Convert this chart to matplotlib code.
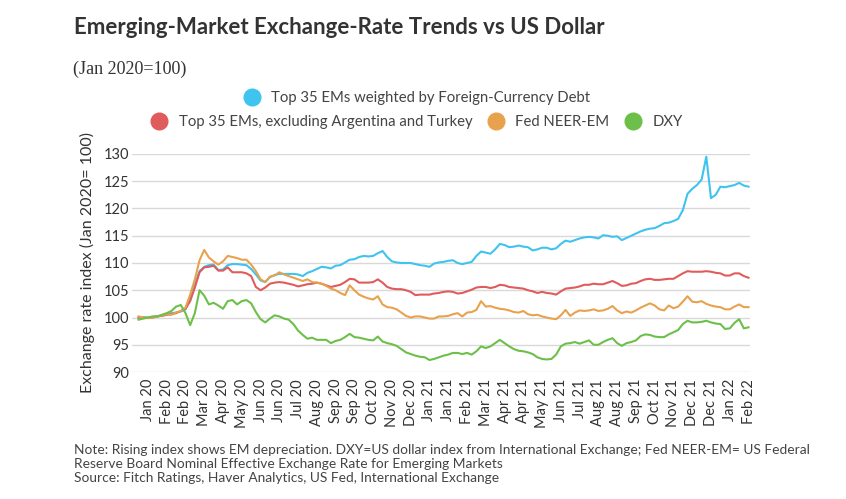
import numpy as np
import matplotlib
matplotlib.use("Agg")
import matplotlib.pyplot as plt
from matplotlib.lines import Line2D

plt.rcParams['font.family'] = ['Lato', 'DejaVu Sans']

# tick labels (one label every 4 observations)
tick_labels = ['Jan 20', 'Feb 20', 'Feb 20', 'Mar 20', 'Apr 20', 'May 20', 'Jun 20', 'Jun 20',
               'Jul 20', 'Aug 20', 'Sep 20', 'Sep 20', 'Oct 20', 'Nov 20', 'Dec 20', 'Jan 21',
               'Jan 21', 'Feb 21', 'Mar 21', 'Apr 21', 'Apr 21', 'May 21', 'Jun 21', 'Jul 21',
               'Aug 21', 'Aug 21', 'Sep 21', 'Oct 21', 'Nov 21', 'Dec 21', 'Dec 21', 'Jan 22',
               'Feb 22']

# index values, Jan 2020 = 100
fc_debt = [100.0, 100.0, 100.0, 100.1, 100.2, 100.4, 100.6, 100.8, 100.9, 101.1, 101.5, 103.5,
           106.0, 108.5, 109.3, 109.6, 109.7, 108.7, 108.8, 109.6, 109.8, 109.8, 109.7, 109.6,
           108.9, 107.9, 106.8, 106.5, 107.4, 107.8, 108.0, 108.0, 108.0, 108.0, 107.9,
           107.6, 108.2, 108.5, 108.9, 109.3, 109.2, 109.0, 109.5, 109.6, 110.1, 110.6, 110.7,
           111.1, 111.3, 111.2, 111.3, 111.8, 112.2, 111.1, 110.3, 110.1, 110.0, 110.0, 110.0,
           109.8, 109.6, 109.5, 109.3, 109.9, 110.1, 110.2, 110.4, 110.5, 110.0,
           109.8, 110.0, 110.2, 111.3, 112.1, 111.9, 111.7, 112.5, 113.5, 113.3, 112.9, 113.0,
           113.2, 113.0, 112.9, 112.3, 112.5, 112.8, 112.8, 112.5, 112.7, 113.5, 114.1, 113.9,
           114.2, 114.5, 114.7, 114.8, 114.7, 114.5, 115.1, 115.0, 114.8, 114.9,
           114.2, 114.6, 115.0, 115.4, 115.8, 116.1, 116.3, 116.4, 116.8, 117.3, 117.4, 117.7,
           118.1, 119.7, 122.7, 123.6, 124.3, 125.3, 129.5, 121.9, 122.5, 124.0, 123.9, 124.1,
           124.3, 124.7, 124.2, 124.0]

ex_arg_tur = [100.0, 100.0, 99.9, 100.0, 100.2, 100.3, 100.5, 100.6, 100.8, 101.2, 101.6, 103.0,
              105.5, 108.3, 109.2, 109.3, 109.5, 108.6, 108.6, 109.2, 108.3, 108.3, 108.3, 108.1,
              107.6, 105.6, 105.0, 105.5, 106.2, 106.4, 106.5, 106.4, 106.2, 106.0, 105.7,
              105.9, 106.1, 106.2, 106.4, 106.2, 105.9, 105.6, 105.8, 106.0, 106.5, 107.1, 107.0,
              106.4, 106.4, 106.4, 106.5, 107.0, 106.4, 105.6, 105.3, 105.2, 105.2, 105.0, 104.7,
              104.1, 104.2, 104.2, 104.2, 104.4, 104.5, 104.7, 104.8, 104.7, 104.4,
              104.5, 104.8, 105.1, 105.5, 105.6, 105.6, 105.4, 105.6, 106.0, 105.9, 105.6, 105.5,
              105.4, 105.3, 105.0, 104.8, 104.5, 104.7, 104.5, 104.4, 104.2, 104.8, 105.3, 105.4,
              105.5, 105.7, 106.0, 106.0, 106.2, 106.1, 106.1, 106.4, 106.7, 106.3,
              105.8, 105.9, 106.2, 106.3, 106.7, 107.0, 107.1, 106.9, 106.9, 107.0, 107.1, 107.1,
              107.6, 108.1, 108.5, 108.4, 108.4, 108.4, 108.5, 108.4, 108.2, 108.1, 107.7, 107.7,
              108.1, 108.1, 107.6, 107.3]

fed_neer = [100.2, 100.0, 99.9, 100.0, 100.2, 100.4, 100.6, 100.5, 100.9, 101.2, 101.8, 104.2,
            107.0, 110.5, 112.4, 111.0, 110.3, 109.7, 110.3, 111.3, 111.1, 110.9, 110.6, 110.6,
            109.7, 108.5, 107.0, 106.5, 107.5, 107.7, 108.3, 107.9, 107.6, 107.3, 107.0,
            106.7, 107.0, 106.5, 106.4, 106.2, 105.8, 105.3, 105.0, 104.5, 104.1, 105.9, 105.0,
            104.2, 103.8, 103.5, 103.3, 103.9, 102.4, 101.9, 101.8, 101.5, 100.9, 100.3, 100.0,
            100.2, 100.2, 100.0, 99.8, 99.8, 100.2, 100.2, 100.3, 100.6, 100.8,
            100.2, 100.9, 101.0, 101.4, 103.0, 102.0, 102.1, 101.8, 101.6, 101.5, 101.3, 101.0,
            100.9, 101.2, 100.6, 100.4, 100.5, 100.2, 100.0, 99.8, 99.7, 100.4, 101.4, 100.3,
            100.9, 101.3, 101.2, 101.3, 101.5, 101.2, 101.3, 101.6, 102.1, 101.3,
            100.8, 101.1, 100.9, 101.3, 101.8, 102.2, 102.6, 102.2, 101.5, 101.3, 102.2, 101.7,
            102.0, 102.9, 103.9, 102.9, 102.8, 103.0, 102.5, 102.2, 102.0, 101.9, 101.5, 101.5,
            102.0, 102.4, 101.9, 101.9]

dxy = [99.6, 99.8, 100.0, 100.2, 100.2, 100.5, 100.8, 101.2, 102.0, 102.3, 100.8, 98.6,
       100.8, 105.0, 104.0, 102.4, 102.7, 102.2, 101.6, 103.0, 103.2, 102.4, 103.0, 103.2,
       102.6, 101.0, 99.7, 99.1, 99.8, 100.4, 100.2, 99.8, 99.6, 98.8, 97.6,
       96.8, 96.1, 96.3, 95.9, 95.9, 95.9, 95.3, 95.7, 95.9, 96.4, 97.0, 96.4,
       96.3, 96.1, 95.9, 95.8, 96.5, 95.6, 95.3, 95.1, 94.8, 94.2, 93.6, 93.3,
       93.0, 92.8, 92.7, 92.2, 92.4, 92.7, 93.0, 93.2, 93.5, 93.5,
       93.3, 93.5, 93.2, 93.8, 94.7, 94.4, 94.7, 95.3, 95.9, 95.3, 94.7, 94.2,
       93.9, 93.8, 93.6, 93.3, 92.7, 92.4, 92.3, 92.4, 93.2, 94.7, 95.2, 95.3,
       95.5, 95.2, 95.5, 95.8, 95.0, 95.0, 95.5, 95.9, 96.2, 95.3,
       94.8, 95.3, 95.5, 95.8, 96.6, 96.9, 96.8, 96.5, 96.4, 96.4, 96.9, 97.3,
       97.7, 98.8, 99.4, 99.1, 99.1, 99.2, 99.4, 99.1, 98.9, 98.8, 97.9, 98.0,
       99.0, 99.7, 98.0, 98.2]

series_names = ['Top 35 EMs weighted by Foreign-Currency Debt',
                'Top 35 EMs, excluding Argentina and Turkey',
                'Fed NEER-EM', 'DXY']
colors = ['#3fc3ef', '#e05c5c', '#e8a24e', '#6cc04a']

obs = np.arange(len(fc_debt))
tick_pos = obs[2::4]

fig = plt.figure(figsize=(8.46, 4.99), dpi=100)
ax = fig.add_axes([0.156, 0.2545, 0.731, 0.4369])

for vals, c in zip([fc_debt, ex_arg_tur, fed_neer, dxy], colors):
    ax.plot(obs, vals, color=c, lw=1.5, solid_joinstyle='round', clip_on=False, zorder=3)

ax.set_ylim(90, 130)
ax.set_yticks(range(90, 131, 5))
ax.set_xlim(-1.4, 130.4)
ax.set_xticks(tick_pos)
ax.set_xticklabels(tick_labels, rotation=90)
ax.grid(axis='y', color='#d9d9d9', lw=1)
ax.set_axisbelow(True)
for s in ax.spines.values():
    s.set_visible(False)
ax.tick_params(axis='both', length=0, labelsize=10.5, labelcolor='#333333')
ax.tick_params(axis='y', pad=2)
ax.tick_params(axis='x', pad=5)
ax.set_ylabel('Exchange rate index (Jan 2020= 100)', fontsize=11.5, color='#333333', labelpad=6)

fig.text(0.088, 0.944, 'Emerging-Market Exchange-Rate Trends vs US Dollar', fontsize=16,
         fontweight='bold', color='#333333', va='center')
fig.text(0.086, 0.862, '(Jan 2020=100)', fontsize=13, family='Liberation Serif',
         color='#333333', va='center')

def handle(c):
    return Line2D([], [], ls='none', marker='o', markersize=12, color=c)

# two legend rows, both centred over the plot
fig.legend([handle(colors[0])], series_names[:1], loc='center',
           bbox_to_anchor=(0.489, 0.803), frameon=False, fontsize=10.7,
           handletextpad=0.3, labelcolor='#444444')
fig.legend([handle(c) for c in colors[1:]], series_names[1:], loc='center',
           bbox_to_anchor=(0.489, 0.755), frameon=False, fontsize=10.7, ncol=3,
           handletextpad=0.3, columnspacing=0.6, labelcolor='#444444')

note = ('Note: Rising index shows EM depreciation. DXY=US dollar index from International Exchange; '
        'Fed NEER-EM= US Federal\nReserve Board Nominal Effective Exchange Rate for Emerging Markets\n'
        'Source: Fitch Ratings, Haver Analytics, US Fed, International Exchange')
fig.text(0.088, 0.07, note, fontsize=9.9, color='#444444', va='center', linespacing=1.2)

fig.savefig('out.png', dpi=100, facecolor='white')
